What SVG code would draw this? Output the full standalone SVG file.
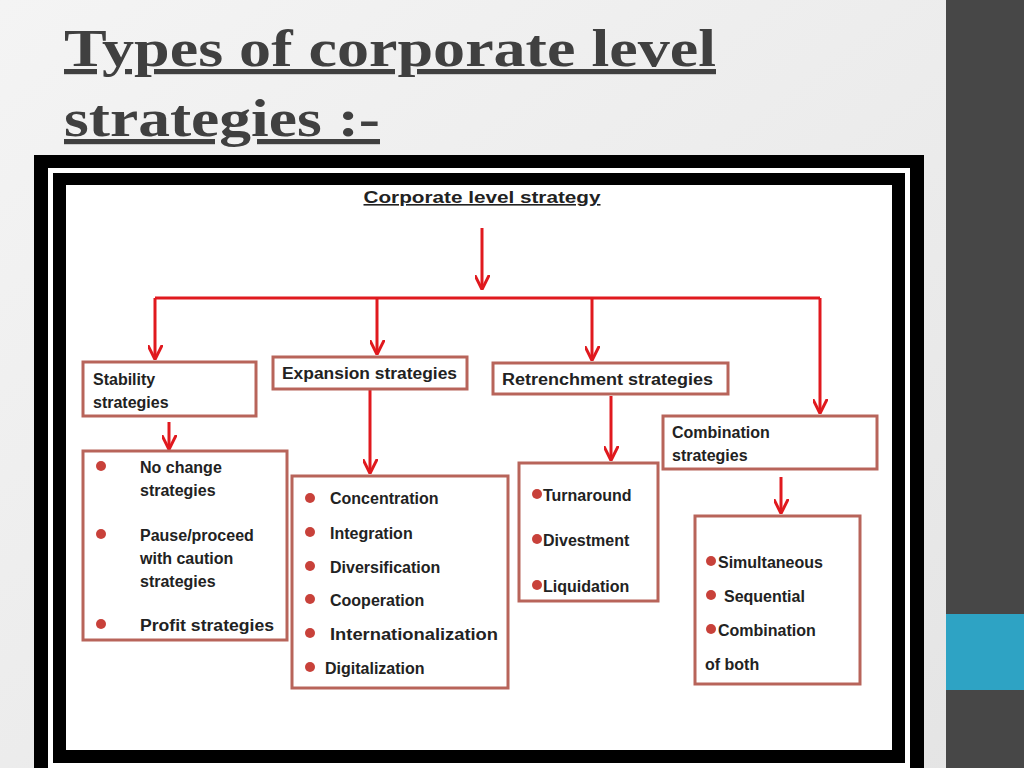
<svg xmlns="http://www.w3.org/2000/svg" width="1024" height="768" viewBox="0 0 1024 768">
<defs>
<linearGradient id="bg" x1="0" y1="0" x2="1" y2="1"><stop offset="0" stop-color="#f4f4f4"/><stop offset="1" stop-color="#e4e4e4"/></linearGradient>
<marker id="ah" viewBox="0 0 10 10" refX="9" refY="5" markerWidth="5" markerHeight="5" orient="auto"><path d="M0,0 L10,5 L0,10" fill="none" stroke="#e0191e" stroke-width="2"/></marker>
</defs>
<style>
.box{fill:#fff;stroke:#b8645a;stroke-width:3}
.t{font-family:"Liberation Sans",Arial,sans-serif;font-weight:bold;font-size:16px;fill:#222}
.c{stroke:#e0191e;stroke-width:3;fill:none}
.b{fill:#c8413a}
</style>
<rect width="1024" height="768" fill="url(#bg)"/>
<rect x="946" y="0" width="78" height="768" fill="#474747"/>
<rect x="946" y="614" width="78" height="76" fill="#2ea3c4"/>
<g font-family="'Liberation Serif',serif" font-weight="bold" font-size="52" fill="#404040" text-decoration="underline">
<text x="64" y="66" textLength="652" lengthAdjust="spacingAndGlyphs">Types of corporate level</text>
<text x="64" y="136" textLength="316" lengthAdjust="spacingAndGlyphs">strategies :-</text>
</g>
<rect x="34" y="155" width="890" height="620" fill="#000"/>
<rect x="48" y="168" width="862" height="600" fill="#fff"/>
<rect x="53" y="173" width="852" height="590" fill="#000"/>
<rect x="66" y="185" width="826" height="565" fill="#fff"/>
<text x="482" y="203" class="t" text-anchor="middle" text-decoration="underline" textLength="237" lengthAdjust="spacingAndGlyphs">Corporate level strategy</text>
<g id="connectors">
<path class="c" d="M482,228 V288" marker-end="url(#ah)"/>
<path class="c" d="M155,298 H820"/>
<path class="c" d="M155,298 V358" marker-end="url(#ah)"/>
<path class="c" d="M377,298 V353" marker-end="url(#ah)"/>
<path class="c" d="M592,298 V359" marker-end="url(#ah)"/>
<path class="c" d="M820,298 V412" marker-end="url(#ah)"/>
<path class="c" d="M169,422 V448" marker-end="url(#ah)"/>
<path class="c" d="M370,390 V472" marker-end="url(#ah)"/>
<path class="c" d="M611,396 V459" marker-end="url(#ah)"/>
<path class="c" d="M781,477 V512" marker-end="url(#ah)"/>
</g>
<g id="stability"><rect class="box" x="83" y="362" width="173" height="54"/><text class="t" x="93" y="385">Stability</text><text class="t" x="93" y="408">strategies</text></g>
<g id="expansion"><rect class="box" x="273" y="357" width="194" height="32"/><text class="t" x="282" y="379" textLength="175" lengthAdjust="spacingAndGlyphs">Expansion strategies</text></g>
<g id="retrenchment"><rect class="box" x="493" y="363" width="235" height="31"/><text class="t" x="502" y="385" textLength="211" lengthAdjust="spacingAndGlyphs">Retrenchment strategies</text></g>
<g id="combination"><rect class="box" x="663" y="416" width="214" height="53"/><text class="t" x="672" y="438">Combination</text><text class="t" x="672" y="461">strategies</text></g>
<g id="list1"><rect class="box" x="83" y="451" width="204" height="189"/>
<circle class="b" cx="101" cy="466" r="5"/><circle class="b" cx="101" cy="534" r="5"/><circle class="b" cx="101" cy="624" r="5"/>
<text class="t" x="140" y="473">No change</text><text class="t" x="140" y="496">strategies</text>
<text class="t" x="140" y="541">Pause/proceed</text><text class="t" x="140" y="564">with caution</text><text class="t" x="140" y="587">strategies</text>
<text class="t" x="140" y="631" textLength="134" lengthAdjust="spacingAndGlyphs">Profit strategies</text></g>
<g id="list2"><rect class="box" x="292" y="476" width="216" height="212"/>
<circle class="b" cx="310" cy="498" r="5"/><circle class="b" cx="310" cy="532" r="5"/><circle class="b" cx="310" cy="566" r="5"/><circle class="b" cx="310" cy="599" r="5"/><circle class="b" cx="310" cy="633" r="5"/><circle class="b" cx="310" cy="667" r="5"/>
<text class="t" x="330" y="504">Concentration</text><text class="t" x="330" y="539">Integration</text><text class="t" x="330" y="573">Diversification</text><text class="t" x="330" y="606">Cooperation</text><text class="t" x="330" y="640" textLength="168" lengthAdjust="spacingAndGlyphs">Internationalization</text><text class="t" x="325" y="674">Digitalization</text></g>
<g id="list3"><rect class="box" x="519" y="463" width="139" height="138"/>
<circle class="b" cx="537" cy="494" r="5"/><circle class="b" cx="537" cy="539" r="5"/><circle class="b" cx="537" cy="585" r="5"/>
<text class="t" x="543" y="501">Turnaround</text><text class="t" x="543" y="546">Divestment</text><text class="t" x="543" y="592">Liquidation</text></g>
<g id="list4"><rect class="box" x="695" y="516" width="165" height="168"/>
<circle class="b" cx="711" cy="561" r="5"/><circle class="b" cx="711" cy="595" r="5"/><circle class="b" cx="711" cy="629" r="5"/>
<text class="t" x="718" y="568">Simultaneous</text><text class="t" x="724" y="602">Sequential</text><text class="t" x="718" y="636">Combination</text><text class="t" x="705" y="670">of  both</text></g>
</svg>
